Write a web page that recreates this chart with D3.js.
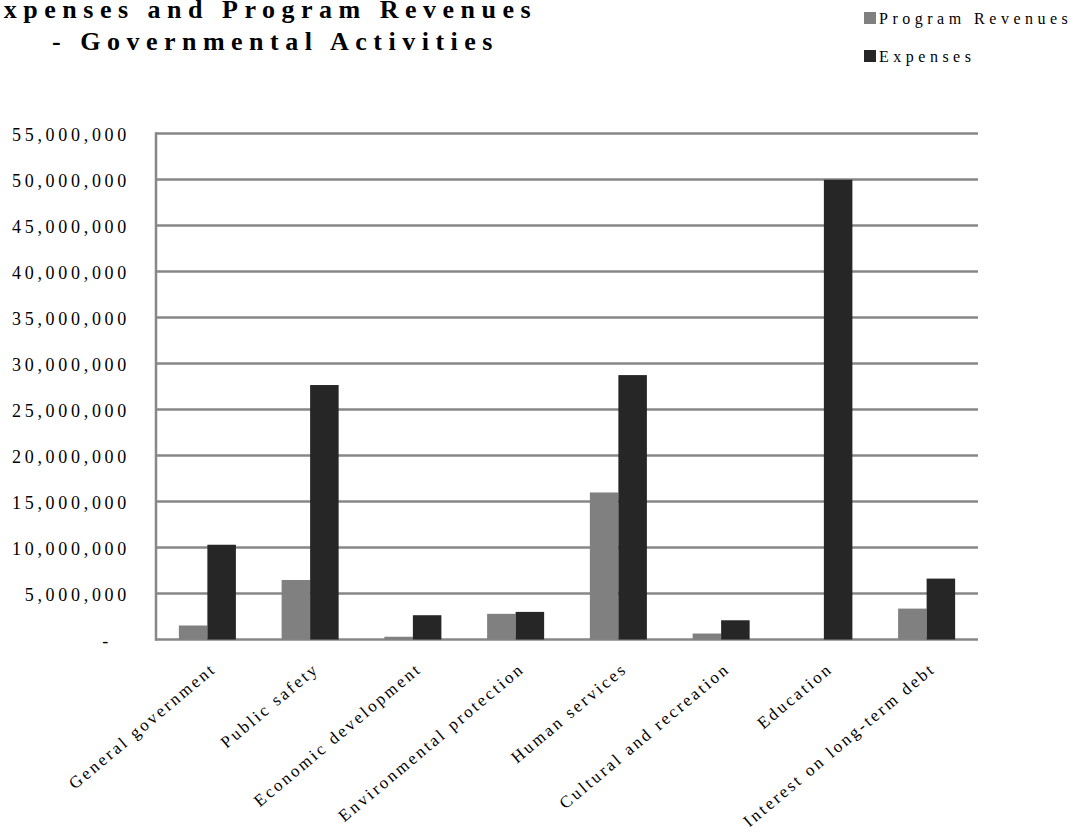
<!DOCTYPE html>
<html>
<head>
<meta charset="utf-8">
<script src="https://cdn.jsdelivr.net/npm/d3@7"></script>
<style>
  body { margin: 0; background: #fff; }
  svg text { font-family: "Liberation Serif", "Times New Roman", serif; fill: #000; }
</style>
</head>
<body>
<div class="chart"></div>
<script>
// Expenses and Program Revenues - Governmental Activities

var categories = ["General government", "Public safety", "Economic development",
  "Environmental protection", "Human services", "Cultural and recreation",
  "Education", "Interest on long-term debt"];

var seriesNames = ["Program Revenues", "Expenses"];

var programRevenues = [1520000, 6470000, 300000, 2790000, 15980000, 650000, 0, 3360000];
var expenses = [10300000, 27660000, 2640000, 3000000, 28740000, 2090000, 49970000, 6620000];

var yTicks = [0, 5000000, 10000000, 15000000, 20000000, 25000000, 30000000,
  35000000, 40000000, 45000000, 50000000, 55000000];

var svgWidth = 1078;
var svgHeight = 839;

var margin = { top: 133.5, right: 100, bottom: 199.5, left: 156 };
var width = svgWidth - margin.left - margin.right;
var height = svgHeight - margin.top - margin.bottom;

var colors = { "Program Revenues": "#808080", "Expenses": "#262626" };
var gridColor = "#878787";

var svg = d3.select(".chart")
  .append("svg")
  .attr("width", svgWidth)
  .attr("height", svgHeight);

var chartGroup = svg.append("g")
  .attr("transform", `translate(${margin.left}, ${margin.top})`);

var x0 = d3.scaleBand()
  .domain(categories)
  .range([0, width])
  .paddingInner(0.445)
  .paddingOuter(0.2225);

var x1 = d3.scaleBand()
  .domain(seriesNames)
  .range([0, x0.bandwidth()]);

var yLinearScale = d3.scaleLinear()
  .domain([0, 55000000])
  .range([height, 0]);

// gridlines
chartGroup.selectAll(".grid")
  .data(yTicks)
  .enter()
  .append("line")
  .attr("class", "grid")
  .attr("x1", 0)
  .attr("x2", width)
  .attr("y1", d => yLinearScale(d))
  .attr("y2", d => yLinearScale(d))
  .attr("stroke", gridColor)
  .attr("stroke-width", 2.5);

// left axis line
chartGroup.append("line")
  .attr("x1", 0)
  .attr("x2", 0)
  .attr("y1", yLinearScale(55000000) - 1.25)
  .attr("y2", yLinearScale(0) + 1.25)
  .attr("stroke", gridColor)
  .attr("stroke-width", 2.5);

// y tick labels
var fmt = d3.format(",");
chartGroup.selectAll(".ylabel")
  .data(yTicks)
  .enter()
  .append("text")
  .attr("class", "ylabel")
  .attr("x", d => d == 0 ? -44 : -26)
  .attr("y", d => yLinearScale(d))
  .attr("dy", 7)
  .attr("text-anchor", "end")
  .style("font-size", "18px")
  .style("letter-spacing", "3.7px")
  .text(d => d == 0 ? "-" : fmt(d));

// bars
var rows = categories.map(function (c, i) {
  return { category: c, values: [
    { name: "Program Revenues", value: programRevenues[i] },
    { name: "Expenses", value: expenses[i] }
  ] };
});

var groups = chartGroup.selectAll(".cat")
  .data(rows)
  .enter()
  .append("g")
  .attr("class", "cat")
  .attr("transform", d => `translate(${x0(d.category)}, 0)`);

groups.selectAll("rect")
  .data(d => d.values)
  .enter()
  .append("rect")
  .attr("x", d => x1(d.name))
  .attr("y", d => yLinearScale(d.value))
  .attr("width", x1.bandwidth())
  .attr("height", d => height - yLinearScale(d.value))
  .attr("fill", d => colors[d.name]);

// x labels, rotated
chartGroup.selectAll(".xlabel")
  .data(categories)
  .enter()
  .append("text")
  .attr("class", "xlabel")
  .attr("transform", d => `translate(${x0(d) + x0.bandwidth() / 2 + 10}, ${height + 31}) rotate(-40)`)
  .attr("text-anchor", "end")
  .style("font-size", "17px")
  .style("letter-spacing", "2.6px")
  .text(d => d);

// title (left edge runs off the page, as in the original)
svg.append("text")
  .attr("x", -20)
  .attr("y", 18)
  .style("font-size", "26px")
  .style("font-weight", "bold")
  .style("letter-spacing", "6.5px")
  .text("Expenses and Program Revenues");

svg.append("text")
  .attr("x", 52)
  .attr("y", 50)
  .style("font-size", "26px")
  .style("font-weight", "bold")
  .style("letter-spacing", "6.5px")
  .text("- Governmental Activities");

// legend
var legend = svg.selectAll(".legend")
  .data(seriesNames)
  .enter()
  .append("g")
  .attr("class", "legend")
  .attr("transform", (d, i) => `translate(864, ${12 + i * 38})`);

legend.append("rect")
  .attr("width", 12)
  .attr("height", 12)
  .attr("fill", d => colors[d]);

legend.append("text")
  .attr("x", 15)
  .attr("y", 11.5)
  .style("font-size", "16px")
  .style("letter-spacing", "4.5px")
  .text(d => d);
</script>
</body>
</html>
